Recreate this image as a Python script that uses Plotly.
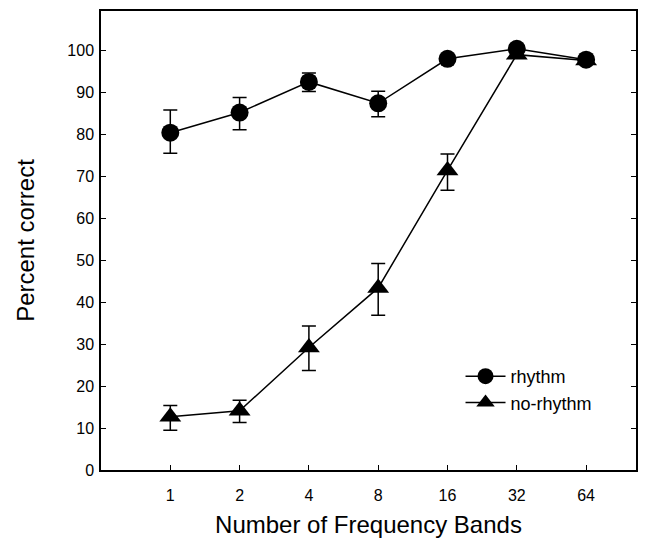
import plotly.graph_objects as go

bands = ["1", "2", "4", "8", "16", "32", "64"]
xpos = [0, 1, 2, 3, 4, 5, 6]

rhythm = [80.4, 85.2, 92.5, 87.4, 98.0, 100.4, 97.8]
rhythm_hi = [85.8, 88.8, 94.6, 90.3, 98.0, 100.4, 97.8]
rhythm_lo = [75.5, 81.1, 90.2, 84.2, 98.0, 100.4, 97.8]

norhythm = [12.7, 14.1, 29.2, 43.4, 71.4, 99.0, 97.6]
norhythm_hi = [15.4, 16.6, 34.3, 49.2, 75.3, 99.0, 97.6]
norhythm_lo = [9.5, 11.3, 23.7, 36.9, 66.7, 99.0, 97.6]

yticks = [0, 10, 20, 30, 40, 50, 60, 70, 80, 90, 100]


def err(vals, hi, lo):
    return dict(type="data", symmetric=False,
                array=[h - v for h, v in zip(hi, vals)],
                arrayminus=[v - l for v, l in zip(vals, lo)],
                color="black", thickness=1.5, width=7)


fig = go.Figure()
fig.add_trace(go.Scatter(
    x=xpos, y=norhythm, name="no-rhythm", mode="lines+markers",
    line=dict(color="black", width=1.5),
    marker=dict(symbol="triangle-up", size=19, color="black"),
    error_y=err(norhythm, norhythm_hi, norhythm_lo)))
fig.add_trace(go.Scatter(
    x=xpos, y=rhythm, name="rhythm", mode="lines+markers",
    line=dict(color="black", width=1.5),
    marker=dict(symbol="circle", size=18, color="black"),
    error_y=err(rhythm, rhythm_hi, rhythm_lo)))

fig.update_layout(
    width=656, height=536,
    margin=dict(l=93, r=28, t=1, b=74),
    paper_bgcolor="white", plot_bgcolor="white",
    font=dict(family="Liberation Sans, Arial, sans-serif", color="black", size=16),
    showlegend=True,
    legend=dict(x=0.672, y=0.244, xanchor="left", yanchor="top",
                traceorder="reversed", font=dict(size=18),
                bgcolor="rgba(0,0,0,0)", itemwidth=40),
    xaxis=dict(range=[-1, 6.72], tickvals=xpos, ticktext=bands,
               showgrid=False, zeroline=False,
               showline=True, linecolor="black", linewidth=1.5, mirror=True,
               ticks="inside", ticklen=5, tickcolor="black",
               ticklabelstandoff=10,
               title=dict(text="Number of Frequency Bands", font=dict(size=24), standoff=13)),
    yaxis=dict(range=[0, 109.4], tickvals=yticks,
               showgrid=False, zeroline=False,
               showline=True, linecolor="black", linewidth=1.5, mirror="ticks",
               ticks="inside", ticklen=5, tickcolor="black",
               ticklabelstandoff=2,
               title=dict(text="Percent correct", font=dict(size=24), standoff=26)),
)

fig.write_html("out.html")
